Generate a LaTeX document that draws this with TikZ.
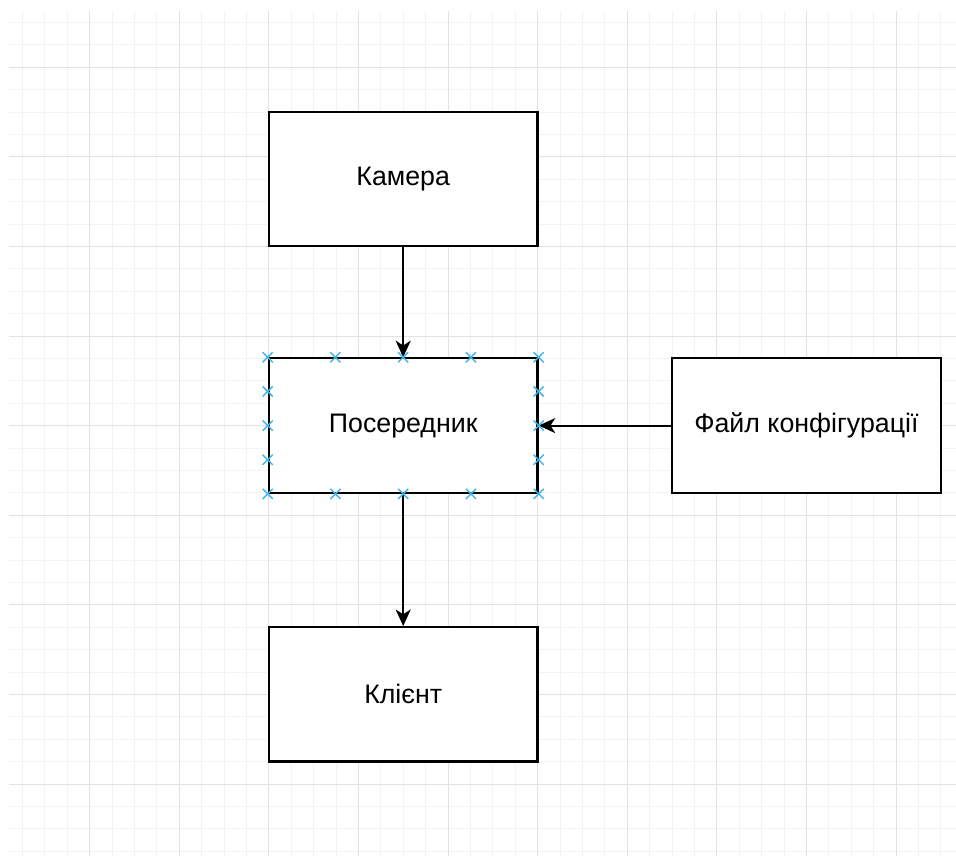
\documentclass[tikz,border=0pt]{standalone}
\usepackage{fontspec}
\setmainfont{Liberation Sans}
\usetikzlibrary{arrows.meta,shapes.misc,calc}

\definecolor{minorgrid}{HTML}{F3F3F3}
\definecolor{majorgrid}{HTML}{E2E2E2}
\definecolor{handleblue}{HTML}{3FB4EA}

\begin{document}
\begin{tikzpicture}[x=0.5cm,y=-0.5cm,
  block/.style={draw, line width=1.4pt, fill=white, minimum width=6cm, minimum height=3cm,
    inner sep=0pt, font=\fontsize{17}{20}\selectfont},
  flow/.style={line width=1.3pt, -{Stealth[length=10.5pt,width=9.5pt,inset=3pt]}},
  handle/.style={draw=handleblue, cross out, line width=0.9pt, minimum size=5.5pt, inner sep=0pt}]
\useasboundingbox (0,0) rectangle (42.68,38.21);
% grid
\foreach \i in {1,...,42} \draw[minorgrid, line width=0.6pt] (\i,0.49) -- (\i,38.21);
\foreach \j in {1,...,38} \draw[minorgrid, line width=0.6pt] (0.4,\j) -- (42.68,\j);
\foreach \i in {4,8,...,40} \draw[majorgrid, line width=0.6pt] (\i,0.49) -- (\i,38.21);
\foreach \j in {3,7,...,35} \draw[majorgrid, line width=0.6pt] (0.4,\j) -- (42.68,\j);
% boxes
\node[block] (cam) at (18,8) {Камера};
\node[block] (proxy) at (18,19) {Посередник};
\node[block] (cfg) at (36,19) {Файл конфігурації};
\node[block] (client) at (18,31) {Клієнт};
% arrows
\draw[flow] (cam) -- (proxy);
\draw[flow] (proxy) -- (client);
\draw[flow] (cfg) -- (proxy);
% selection handles
\foreach \f in {0,0.25,0.5,0.75,1} {
  \node[handle] at ($(proxy.north west)!\f!(proxy.north east)$) {};
  \node[handle] at ($(proxy.south west)!\f!(proxy.south east)$) {};
}
\foreach \f in {0.25,0.5,0.75} {
  \node[handle] at ($(proxy.north west)!\f!(proxy.south west)$) {};
  \node[handle] at ($(proxy.north east)!\f!(proxy.south east)$) {};
}
\end{tikzpicture}
\end{document}
